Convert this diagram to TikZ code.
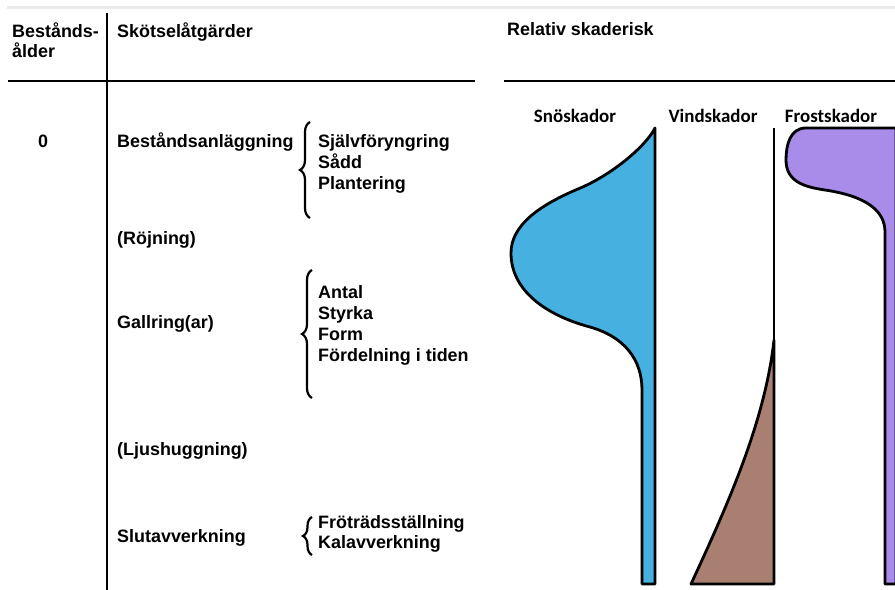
\documentclass[tikz,border=0pt]{standalone}
\usepackage{fontspec}
\setmainfont{Liberation Sans}
\newfontfamily\calfont{Carlito}
\usetikzlibrary{decorations.pathreplacing}

\definecolor{snoblue}{RGB}{70,177,225}
\definecolor{vindbrown}{RGB}{168,127,112}
\definecolor{frostlilac}{RGB}{169,139,234}
\definecolor{toplinegray}{RGB}{235,235,235}

\begin{document}
\begin{tikzpicture}[x=1bp, y=-1bp,
  txt/.style={anchor=base west, inner sep=0pt, font=\fontsize{18}{21}\selectfont\bfseries},
  lbl/.style={anchor=base, inner sep=0pt, font=\fontsize{19}{22}\selectfont\calfont\bfseries},
  rule/.style={line width=2.8bp},
  skada/.style={draw=black, line width=2.8bp, line join=round},
  klammer/.style={decorate, decoration={brace, amplitude=10bp}, line width=2.2bp}]
% ram
\useasboundingbox (0,0) rectangle (895,590);
% linjer
\draw [toplinegray, line width=3bp] (7,8) -- (895,8);
\draw [rule] (107,13) -- (107,590);
\draw [rule] (8,81) -- (475,81);
\draw [rule] (504,81) -- (895,81);
% rubriker
\node [txt] (aldA) at (12,38) {Bestånds-};
\node [txt] (aldB) at (12,58) {ålder};
\node [txt] (skot) at (117,38) {Skötselåtgärder};
\node [txt] (risk) at (507,36) {Relativ skaderisk};
% åtgärder
\node [txt, anchor=base] (noll) at (43,148) {0};
\node [txt] (anl) at (117,148) {Beståndsanläggning};
\node [txt] (sjalv) at (318,148) {Självföryngring};
\node [txt] (sadd) at (318,169) {Sådd};
\node [txt] (plant) at (318,190) {Plantering};
\node [txt] (roj) at (117,245) {(Röjning)};
\node [txt] (gall) at (117,328) {Gallring(ar)};
\node [txt] (antal) at (318,298) {Antal};
\node [txt] (styrka) at (318,319) {Styrka};
\node [txt] (form) at (318,340) {Form};
\node [txt] (fordel) at (318,361) {Fördelning i tiden};
\node [txt] (ljus) at (117,455) {(Ljushuggning)};
\node [txt] (sluta) at (117,542) {Slutavverkning};
\node [txt] (frot) at (318,528) {Fröträdsställning};
\node [txt] (kala) at (318,548) {Kalavverkning};
% klamrar
\draw [klammer] (310,218) -- (310,122);
\draw [klammer] (312,398) -- (312,270);
\draw [klammer, decoration={amplitude=9bp}] (312,555) -- (312,517);
% skaderisk
\node [lbl] (sno) at (575,123) {Snöskador};
\node [lbl] (vind) at (713,123) {Vindskador};
\node [lbl] (frost) at (831,123) {Frostskador};
\draw [skada, fill=snoblue] (655,128) .. controls (646,146) and (612,175) .. (578,189)
  .. controls (540,205) and (511,225) .. (511,253)
  .. controls (511,290) and (545,315) .. (590,327)
  .. controls (625,337) and (642,360) .. (642,390)
  -- (642,584) -- (655,584) -- cycle;
\draw [skada, fill=vindbrown] (774,340) .. controls (765,420) and (730,500) .. (691,584)
  -- (774,584) -- cycle;
\draw [skada] (774,128) -- (774,584);
\draw [skada, fill=frostlilac] (896,128) -- (806,128)
  .. controls (790,128) and (786,145) .. (786,160)
  .. controls (786,182) and (805,187) .. (825,190)
  .. controls (865,196) and (885,210) .. (885,232)
  -- (885,584) -- (896,584) -- cycle;
\end{tikzpicture}
\end{document}
